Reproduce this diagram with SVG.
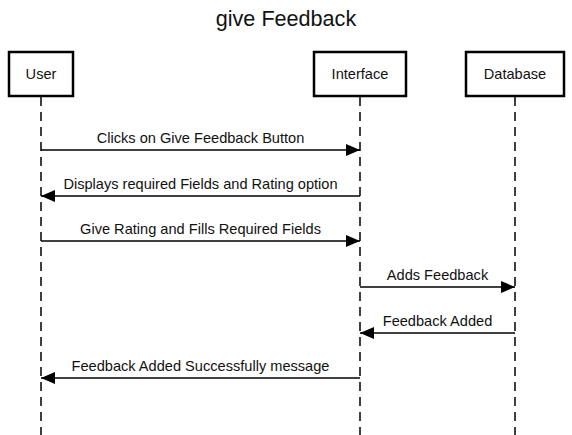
<svg xmlns="http://www.w3.org/2000/svg" width="572" height="435" viewBox="0 0 572 435">
<style>
.box{fill:#fff;stroke:#000;stroke-width:2.5}
.lbl{font-family:"Liberation Sans",Arial,sans-serif;font-size:14.6px;fill:#111;text-anchor:middle}
.life{stroke:#000;stroke-width:1.5;stroke-dasharray:9 6;fill:none}
.msg{stroke:#000;stroke-width:1.5;fill:none;marker-end:url(#ah)}
.title{font-family:"Liberation Sans",Arial,sans-serif;font-size:21.6px;fill:#111;text-anchor:middle}
</style>
<defs>
<marker id="ah" markerUnits="userSpaceOnUse" markerWidth="15" markerHeight="13" refX="14" refY="6" orient="auto">
<path d="M0,0 L14,6 L0,12 Z" fill="#000"/>
</marker>
</defs>
<rect width="572" height="435" fill="#fff"/>
<text class="title" x="286" y="26">give Feedback</text>
<g id="lifelines">
<line class="life" x1="41" y1="97" x2="41" y2="435"/>
<line class="life" x1="360" y1="97" x2="360" y2="435"/>
<line class="life" x1="515" y1="97" x2="515" y2="435"/>
</g>
<g id="user"><rect class="box" x="9" y="52" width="64" height="44"/><text class="lbl" x="41" y="79">User</text></g>
<g id="interface"><rect class="box" x="314" y="52" width="92" height="44"/><text class="lbl" x="360" y="79">Interface</text></g>
<g id="database"><rect class="box" x="466" y="52" width="98" height="44"/><text class="lbl" x="515" y="79">Database</text></g>
<g id="connectors">
<line class="msg" x1="41" y1="150" x2="360" y2="150"/>
<text class="lbl" x="200.5" y="143">Clicks on Give Feedback Button</text>
<line class="msg" x1="360" y1="196" x2="41" y2="196"/>
<text class="lbl" x="200.5" y="189">Displays required Fields and Rating option</text>
<line class="msg" x1="41" y1="241" x2="360" y2="241"/>
<text class="lbl" x="200.5" y="234">Give Rating and Fills Required Fields</text>
<line class="msg" x1="360" y1="287" x2="515" y2="287"/>
<text class="lbl" x="437.5" y="280">Adds Feedback</text>
<line class="msg" x1="515" y1="333" x2="360" y2="333"/>
<text class="lbl" x="437.5" y="326">Feedback Added</text>
<line class="msg" x1="360" y1="378" x2="41" y2="378"/>
<text class="lbl" x="200.5" y="371">Feedback Added Successfully message</text>
</g>
</svg>
